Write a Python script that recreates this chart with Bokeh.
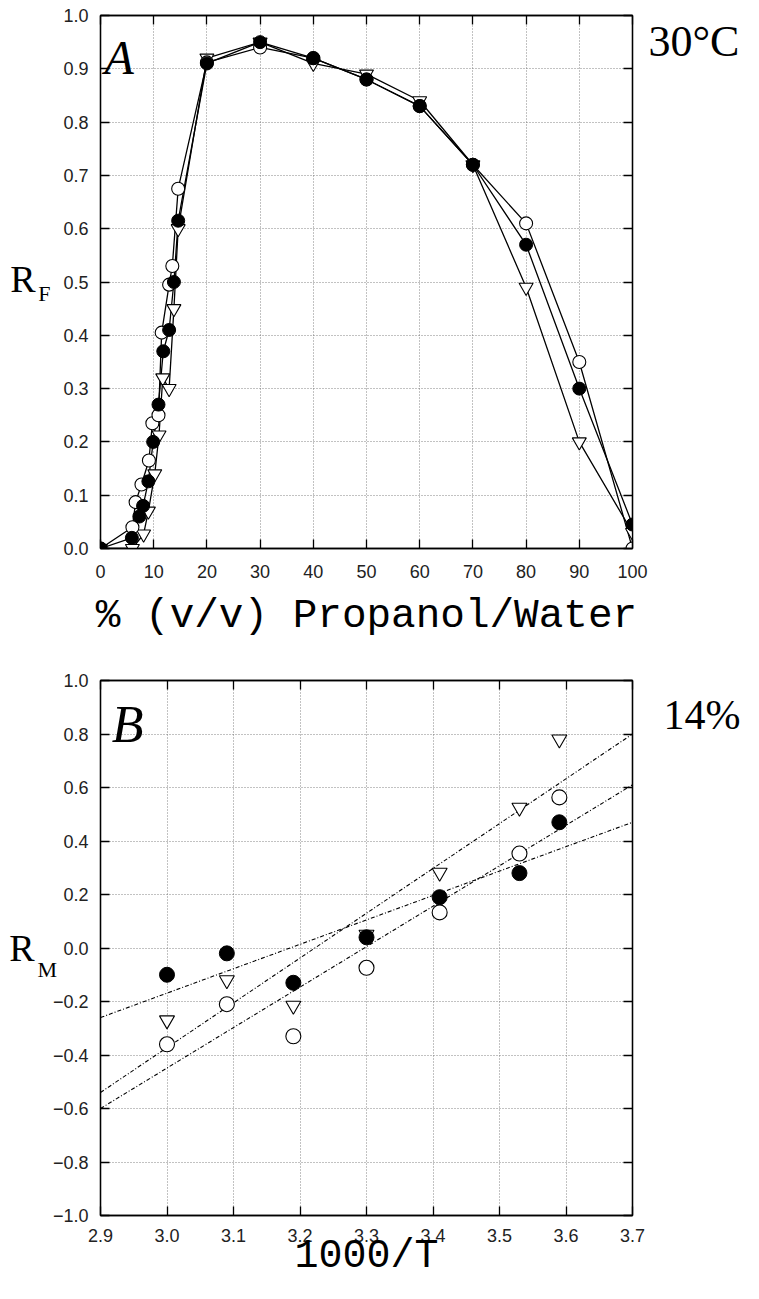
from bokeh.plotting import figure
from bokeh.models import Range1d, FixedTicker, LinearAxis, Label, CustomJSTickFormatter
from bokeh.layouts import column
from bokeh.embed import file_html
from bokeh.resources import INLINE

# ---------------- Panel A data: RF vs % (v/v) propanol/water at 30 C ----------------
a_filled_x = [0, 5.9, 7.3, 8.0, 9.0, 9.9, 10.9, 11.8, 12.9, 13.8, 14.6, 20, 30, 40, 50, 60, 70, 80, 90, 100]
a_filled_y = [0, 0.02, 0.06, 0.08, 0.126, 0.20, 0.27, 0.37, 0.41, 0.50, 0.615, 0.91, 0.95, 0.92, 0.88, 0.83, 0.72, 0.57, 0.30, 0.045]

a_open_x = [0, 6.0, 6.6, 7.7, 9.1, 9.75, 10.9, 11.5, 12.9, 13.5, 14.6, 20, 30, 40, 50, 60, 70, 80, 90, 100]
a_open_y = [0, 0.04, 0.087, 0.12, 0.165, 0.235, 0.25, 0.405, 0.495, 0.53, 0.675, 0.912, 0.94, 0.92, 0.88, 0.83, 0.72, 0.61, 0.35, 0.0]

a_tri_x = [0, 6.0, 8.1, 9.0, 10.2, 11.0, 11.7, 12.9, 13.8, 14.6, 20, 30, 40, 50, 60, 70, 80, 90, 100]
a_tri_y = [0, 0.0, 0.027, 0.07, 0.14, 0.213, 0.32, 0.30, 0.45, 0.60, 0.92, 0.95, 0.91, 0.89, 0.84, 0.72, 0.49, 0.20, 0.03]

a_xticks = [0, 10, 20, 30, 40, 50, 60, 70, 80, 90, 100]
a_yticks = [0.0, 0.1, 0.2, 0.3, 0.4, 0.5, 0.6, 0.7, 0.8, 0.9, 1.0]

# ---------------- Panel B data: RM vs 1000/T at 14 % ----------------
b_x = [3.0, 3.09, 3.19, 3.30, 3.41, 3.53, 3.59]
b_filled_y = [-0.10, -0.02, -0.13, 0.04, 0.19, 0.28, 0.47]
b_open_y = [-0.36, -0.21, -0.33, -0.074, 0.133, 0.353, 0.563]
b_tri_y = [-0.27, -0.12, -0.215, 0.05, 0.282, 0.525, 0.78]

# fitted lines (end points)
b_fit_x = [2.9, 3.7]
b_fit_filled = [-0.26, 0.47]
b_fit_open = [-0.60, 0.61]
b_fit_tri = [-0.54, 0.80]

b_xticks = [2.9, 3.0, 3.1, 3.2, 3.3, 3.4, 3.5, 3.6, 3.7]
b_yticks = [-1.0, -0.8, -0.6, -0.4, -0.2, 0.0, 0.2, 0.4, 0.6, 0.8, 1.0]

SERIF = "Liberation Serif"
MONO = "Liberation Mono"
SANS = "Liberation Sans"
TICK_FS = "18px"
PAD = "\n".join([" "] * 10)  # blank lines that lift a side label to the top


def fmt(digits):
    return CustomJSTickFormatter(code="return tick.toFixed(%d).replace('-', '\\u2212');" % digits)


def style(p, xticks, yticks, xd, yd):
    p.outline_line_color = "black"
    p.outline_line_width = 1.3
    p.background_fill_color = "white"
    p.border_fill_color = "white"
    p.add_layout(LinearAxis(), "above")
    p.add_layout(LinearAxis(), "right")
    for ax in p.xaxis:
        ax.ticker = FixedTicker(ticks=xticks)
        ax.formatter = fmt(xd)
    for ax in p.yaxis:
        ax.ticker = FixedTicker(ticks=yticks)
        ax.formatter = fmt(yd)
    for ax in p.axis:
        ax.axis_line_color = "black"
        ax.axis_line_width = 1.3
        ax.major_tick_in = 9
        ax.major_tick_out = 0
        ax.major_tick_line_color = "black"
        ax.major_tick_line_width = 1.3
        ax.minor_tick_line_color = None
        ax.major_label_text_font = SANS
        ax.major_label_text_font_size = TICK_FS
        ax.major_label_text_color = "#222222"
        ax.major_label_text_font_style = "normal"
    for ax in p.above + p.right:
        ax.major_label_text_alpha = 0
        ax.major_label_text_font_size = "1px"
        ax.major_label_standoff = 0
    p.below[0].major_label_standoff = 16
    p.left[0].major_label_standoff = 12
    for g in p.grid:
        g.grid_line_color = "#666666"
        g.grid_line_dash = "1 2"
        g.grid_line_width = 1
        g.grid_line_alpha = 0.8
    p.xgrid.ticker = FixedTicker(ticks=xticks)
    p.ygrid.ticker = FixedTicker(ticks=yticks)


def axis_text(ax, text, font, size, standoff, line_height=1.2, horizontal=True):
    ax.axis_label = text
    ax.axis_label_text_font = font
    ax.axis_label_text_font_size = size
    ax.axis_label_text_font_style = "normal"
    ax.axis_label_text_color = "black"
    ax.axis_label_standoff = standoff
    ax.axis_label_text_line_height = line_height
    if horizontal:
        ax.axis_label_orientation = "horizontal"


def symbol_axis(p, text, size, line_height):
    # outer, tick-less left axis that only carries the big letter of R_F / R_M
    ax = LinearAxis(ticker=FixedTicker(ticks=[]))
    ax.axis_line_color = None
    ax.major_tick_line_color = None
    ax.minor_tick_line_color = None
    ax.major_label_text_alpha = 0
    ax.major_label_text_font_size = "1px"
    ax.major_label_standoff = 0
    ax.major_tick_in = 0
    ax.major_tick_out = 0
    p.add_layout(ax, "left")
    axis_text(ax, text, SERIF, size, 0, line_height)


def dlab(p, x, y, text, size, font=SERIF, style_="normal"):
    p.add_layout(Label(x=x, y=y, text=text, text_font=font, text_font_size=size,
                       text_font_style=style_, text_align="left",
                       text_baseline="alphabetic", text_color="black"))


# ---------------- Figure A ----------------
pA = figure(width=743, height=650, x_range=Range1d(0, 100), y_range=Range1d(0, 1),
            output_backend="svg", toolbar_location=None,
            min_border_left=100, min_border_right=110, min_border_top=15, min_border_bottom=102)
style(pA, a_xticks, a_yticks, 0, 1)
axis_text(pA.below[0], "% (v/v) Propanol/Water", MONO, "41px", 12, horizontal=False)
axis_text(pA.left[0], "\nF", SERIF, "22px", 10, line_height=0.88)
axis_text(pA.right[0], "30\u00b0C\n" + PAD, SERIF, "44px", 16, line_height=0.982)
symbol_axis(pA, "R\n ", "38px", 0.14)

pA.line(a_tri_x, a_tri_y, line_color="black", line_width=1.3)
pA.line(a_open_x, a_open_y, line_color="black", line_width=1.3)
pA.line(a_filled_x, a_filled_y, line_color="black", line_width=1.3)
pA.scatter(a_tri_x, a_tri_y, marker="inverted_triangle", size=14,
           fill_color="white", line_color="black", line_width=1.1)
pA.scatter(a_open_x, a_open_y, marker="circle", size=13,
           fill_color="white", line_color="black", line_width=1.1)
pA.scatter(a_filled_x, a_filled_y, marker="circle", size=13,
           fill_color="black", line_color="black", line_width=1)

dlab(pA, 0.75, 0.921, "A", "48px", style_="italic")

# ---------------- Figure B ----------------
pB = figure(width=743, height=633, x_range=Range1d(2.9, 3.7), y_range=Range1d(-1.0, 1.0),
            output_backend="svg", toolbar_location=None,
            min_border_left=100, min_border_right=110, min_border_top=30, min_border_bottom=68)
style(pB, b_xticks, b_yticks, 1, 1)
pB.below[0].major_label_standoff = 13
axis_text(pB.below[0], "1000/T", MONO, "40px", -11, horizontal=False)
axis_text(pB.left[0], "\nM", SERIF, "22px", -7, line_height=1.68)
axis_text(pB.right[0], "14%\n" + PAD, SERIF, "42px", 31, line_height=1.013)
symbol_axis(pB, "R", "38px", 1.2)

dash = "4 2 1 2"
pB.line(b_fit_x, b_fit_tri, line_color="black", line_width=1.1, line_dash=dash)
pB.line(b_fit_x, b_fit_open, line_color="black", line_width=1.1, line_dash=dash)
pB.line(b_fit_x, b_fit_filled, line_color="black", line_width=1.1, line_dash=dash)
pB.scatter(b_x, b_tri_y, marker="inverted_triangle", size=15,
           fill_color="white", line_color="black", line_width=1.1)
pB.scatter(b_x, b_open_y, marker="circle", size=15,
           fill_color="white", line_color="black", line_width=1.1)
pB.scatter(b_x, b_filled_y, marker="circle", size=15,
           fill_color="black", line_color="black", line_width=1)

dlab(pB, 2.917, 0.837, "B", "52px", style_="italic")

layout = column(pA, pB, spacing=0)
open("out.html", "w").write(file_html(layout, INLINE))
